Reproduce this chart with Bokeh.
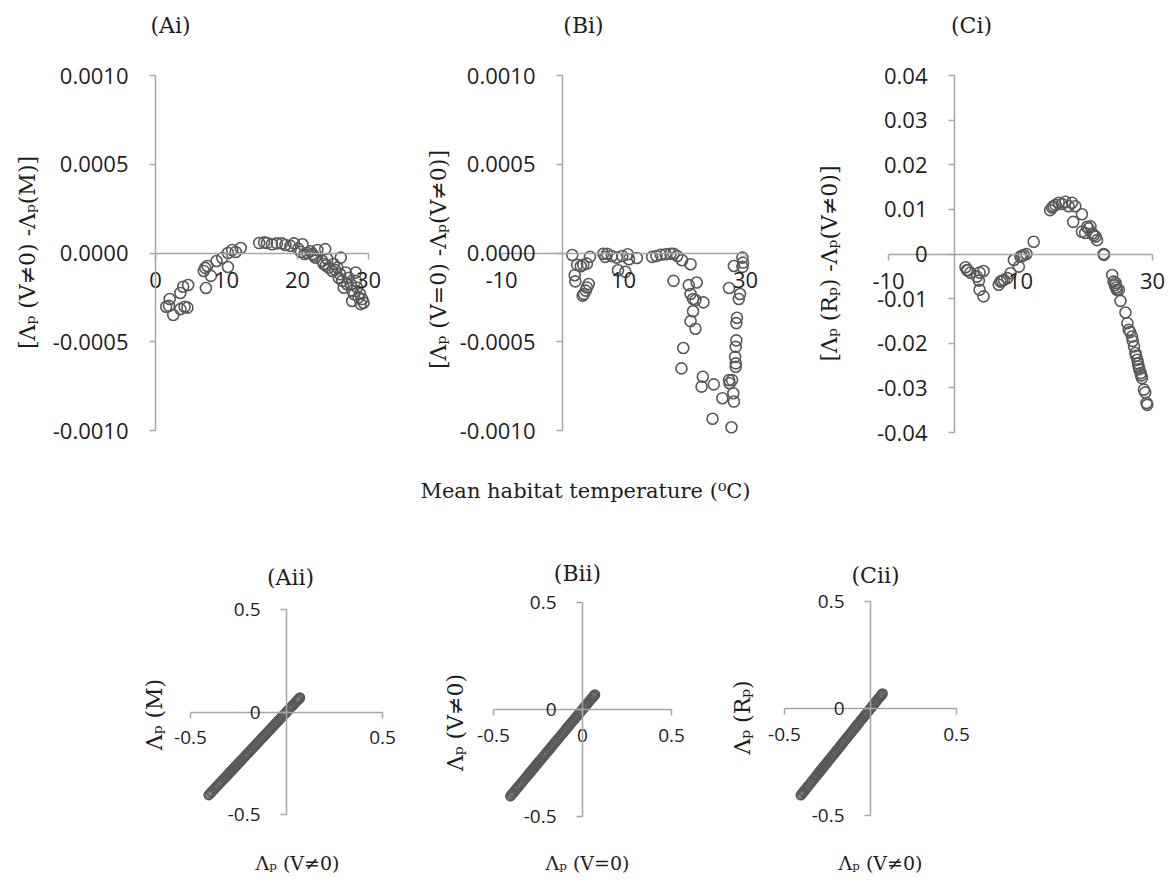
import math
from bokeh.plotting import figure
from bokeh.models import Range1d, FixedTicker, CustomJSTickFormatter, Label
from bokeh.layouts import column, row
from bokeh.embed import file_html
from bokeh.resources import INLINE

# ---------------- data ----------------
temp_ai = [1.5, 2.0, 1.9, 2.5, 3.5, 4.1, 4.5, 3.5, 3.9, 4.6,
           6.8, 7.0, 7.3, 7.1, 7.8, 8.6, 9.4, 10.2, 10.2, 10.8,
           12.0, 11.3, 14.6, 15.3, 15.7, 16.4, 17.1, 17.8, 18.3, 19.0,
           19.5, 20.1, 20.5, 20.7, 21.0, 21.4, 22.1, 22.5, 22.8, 23.5,
           23.9, 23.7, 24.2, 24.4, 24.9, 25.1, 25.6, 26.1, 25.8, 26.3,
           26.5, 26.8, 27.2, 27.5, 27.7, 28.0, 28.2, 27.7, 28.4, 28.6,
           28.9, 29.1, 28.2, 27.0, 21.8, 22.3, 24.0, 25.3, 26.0, 28.8, 29.3]
diff_ai = [-0.000303, -0.000259, -0.000298, -0.000349, -0.000316, -0.000303, -0.000308, -0.000225, -0.000190, -0.000180,
           -0.000101, -0.000084, -0.000073, -0.000197, -0.000129, -0.000045, -0.000028, -0.000079, 0.0, 0.000017,
           0.000028, 0.000006, 0.000056, 0.000060, 0.000056, 0.000049, 0.000054, 0.000054, 0.000045, 0.000040,
           0.000054, 0.000024, 0.000006, 0.000049, -0.000006, 0.0, -0.000006, -0.000026, 0.000017, -0.000045,
           0.000022, -0.000062, -0.000034, -0.000082, -0.000101, -0.000062, -0.000082, -0.000026, -0.000139, -0.000157,
           -0.000195, -0.000110, -0.000139, -0.000176, -0.000213, -0.000232, -0.000110, -0.000270, -0.000195, -0.000250,
           -0.000288, -0.000260, -0.000157, -0.000176, 0.000010, -0.000015, -0.000070, -0.000095, -0.000120, -0.000230, -0.000280]

temp_bi = [1.6, 2.4, 2.0, 2.1, 3.4, 4.0, 4.5, 4.3, 4.0, 3.5,
           3.8, 6.7, 7.3, 7.0, 8.1, 8.9, 9.1, 10.3, 9.8, 10.7,
           10.9, 12.2, 14.7, 15.4, 16.1, 16.9, 17.7, 18.2, 18.8, 19.6,
           21.0, 18.2, 20.7, 22.0, 21.0, 21.4, 21.8, 23.1, 21.4, 21.0,
           21.8, 19.8, 19.5, 23.0, 22.8, 24.8, 26.2, 24.6, 27.7, 27.3,
           27.8, 27.4, 28.0, 28.1, 28.4, 28.4, 28.3, 28.4, 28.5, 28.5,
           28.6, 28.9, 29.1, 27.3, 28.1, 29.5, 29.6, 29.5, 3.3, 3.0]
diff_bi = [-0.000011, -0.000067, -0.000125, -0.000160, -0.000067, -0.000060, -0.000021, -0.000175, -0.000194, -0.000231,
           -0.000212, -0.000004, -0.000004, -0.000022, -0.000017, -0.000026, -0.000097, -0.000106, -0.000017, -0.000007,
           -0.000035, -0.000028, -0.000022, -0.000017, -0.000010, -0.000007, -0.000004, -0.000004, -0.000017, -0.000041,
           -0.000063, -0.000157, -0.000181, -0.000166, -0.000231, -0.000259, -0.000265, -0.000278, -0.000328, -0.000384,
           -0.000427, -0.000535, -0.000650, -0.000697, -0.000753, -0.000740, -0.000818, -0.000934, -0.000982, -0.000716,
           -0.000716, -0.000734, -0.000790, -0.000837, -0.000622, -0.000641, -0.000585, -0.000529, -0.000492, -0.000395,
           -0.000365, -0.000259, -0.000231, -0.000197, -0.000073, -0.000026, -0.000054, -0.000078, -0.000240, -0.000075]

temp_ci = [1.67, 1.9, 2.4, 3.8, 4.4, 3.7, 3.8, 4.4, 3.4, 6.7,
           6.95, 7.5, 8.0, 8.5, 9.0, 9.75, 10.0, 10.5, 10.9, 12.0,
           14.5, 14.8, 15.3, 15.8, 16.8, 17.3, 17.8, 18.3, 19.3, 17.98,
           19.3, 20.1, 20.6, 20.9, 21.4, 21.6, 22.6, 23.9, 24.1, 24.4,
           24.6, 24.9, 25.15, 25.9, 26.2, 26.4, 26.9, 27.2, 27.4, 27.7,
           27.9, 28.2, 28.4, 28.7, 28.9, 29.1, 29.2,
           26.6, 27.0, 27.5, 27.8, 28.0, 28.3, 24.3, 24.5, 15.0, 16.3,
           19.8, 20.3, 21.1, 22.65, 10.2, 7.2, 2.0]
diff_ci = [-0.00298, -0.00358, -0.00417, -0.00417, -0.0038, -0.00596, -0.0080, -0.0095, -0.00507, -0.0069,
           -0.0062, -0.0058, -0.0054, -0.0043, -0.00134, -0.00283, -0.0006, -0.00022, 0.0, 0.00275,
           0.00983, 0.0104, 0.0110, 0.0115, 0.0117, 0.0107, 0.0115, 0.0107, 0.0089, 0.0072,
           0.0050, 0.0061, 0.0062, 0.0046, 0.0039, 0.0031, 0.0, -0.0047, -0.0062, -0.0065,
           -0.0080, -0.0080, -0.0105, -0.0131, -0.0155, -0.0170, -0.0185, -0.0207, -0.0222, -0.0237,
           -0.0252, -0.0267, -0.0278, -0.0304, -0.0310, -0.0334, -0.0338,
           -0.0175, -0.0195, -0.0228, -0.0245, -0.0258, -0.0272, -0.0070, -0.0075, 0.0107, 0.0112,
           0.0047, 0.0057, 0.0042, -0.0002, -0.0004, -0.0060, -0.0037]

lam_vne0 = [-0.405, -0.399, -0.392, -0.386, -0.379, -0.371, -0.364, -0.356, -0.348, -0.341,
            -0.333, -0.326, -0.319, -0.313, -0.307, -0.302, -0.298, -0.294, -0.290, -0.287,
            -0.283, -0.279, -0.275, -0.270, -0.265, -0.259, -0.253, -0.247, -0.241, -0.235,
            -0.229, -0.222, -0.216, -0.210, -0.203, -0.197, -0.190, -0.184, -0.177, -0.171,
            -0.164, -0.158, -0.151, -0.145, -0.138, -0.132, -0.125, -0.119, -0.112, -0.106,
            -0.099, -0.093, -0.086, -0.080, -0.073, -0.067, -0.060, -0.054, -0.047, -0.041,
            -0.034, -0.028, -0.021, -0.015, -0.008, -0.002, 0.005, 0.011, 0.018, 0.024,
            0.031, 0.037, 0.044, 0.050, 0.056, 0.061, 0.066, 0.070]
lam_m = [-0.405, -0.399, -0.392, -0.386, -0.379, -0.371, -0.364, -0.356, -0.348, -0.341,
         -0.333, -0.326, -0.319, -0.313, -0.307, -0.302, -0.298, -0.294, -0.290, -0.287,
         -0.283, -0.279, -0.275, -0.270, -0.265, -0.259, -0.253, -0.247, -0.241, -0.235,
         -0.229, -0.222, -0.216, -0.210, -0.203, -0.197, -0.190, -0.184, -0.177, -0.171,
         -0.164, -0.158, -0.151, -0.145, -0.138, -0.132, -0.125, -0.119, -0.112, -0.106,
         -0.099, -0.093, -0.086, -0.080, -0.073, -0.067, -0.060, -0.054, -0.047, -0.041,
         -0.034, -0.028, -0.021, -0.015, -0.008, -0.002, 0.005, 0.011, 0.018, 0.024,
         0.031, 0.037, 0.044, 0.050, 0.056, 0.061, 0.066, 0.070]
lam_v0 = [-0.405, -0.399, -0.392, -0.386, -0.379, -0.371, -0.364, -0.356, -0.348, -0.341,
          -0.333, -0.326, -0.319, -0.313, -0.307, -0.302, -0.298, -0.294, -0.290, -0.287,
          -0.283, -0.279, -0.275, -0.270, -0.265, -0.259, -0.253, -0.247, -0.241, -0.235,
          -0.229, -0.222, -0.216, -0.210, -0.203, -0.197, -0.190, -0.184, -0.177, -0.171,
          -0.164, -0.158, -0.151, -0.145, -0.138, -0.132, -0.125, -0.119, -0.112, -0.106,
          -0.099, -0.093, -0.086, -0.080, -0.073, -0.067, -0.060, -0.054, -0.047, -0.041,
          -0.034, -0.028, -0.021, -0.015, -0.008, -0.002, 0.005, 0.011, 0.018, 0.024,
          0.031, 0.037, 0.044, 0.050, 0.056, 0.061, 0.066, 0.070]
lam_rp = [-0.405, -0.399, -0.392, -0.386, -0.379, -0.371, -0.364, -0.356, -0.348, -0.341,
          -0.333, -0.326, -0.319, -0.313, -0.307, -0.302, -0.298, -0.294, -0.290, -0.287,
          -0.283, -0.279, -0.275, -0.270, -0.265, -0.259, -0.253, -0.247, -0.241, -0.235,
          -0.229, -0.222, -0.216, -0.210, -0.203, -0.197, -0.190, -0.184, -0.177, -0.171,
          -0.164, -0.158, -0.151, -0.145, -0.138, -0.132, -0.125, -0.119, -0.112, -0.106,
          -0.099, -0.093, -0.086, -0.080, -0.073, -0.067, -0.060, -0.054, -0.047, -0.041,
          -0.034, -0.028, -0.021, -0.015, -0.008, -0.002, 0.005, 0.011, 0.018, 0.024,
          0.031, 0.037, 0.044, 0.050, 0.056, 0.061, 0.066, 0.070]

xticks_a = [0, 10, 20, 30]
xticks_bc = [-10, 10, 30]
yticks_ab = [-0.001, -0.0005, 0, 0.0005, 0.001]
yticks_c = [-0.04, -0.03, -0.02, -0.01, 0, 0.01, 0.02, 0.03, 0.04]
yticks_low = [-0.5, 0, 0.5]
xticks_low_ac = [-0.5, 0.5]
xticks_low_b = [-0.5, 0, 0.5]

titles = ["(Ai)", "(Bi)", "(Ci)", "(Aii)", "(Bii)", "(Cii)"]
ylabels = ["[Λₚ (V≠0) -Λₚ(M)]", "[Λₚ (V=0) -Λₚ(V≠0)]", "[Λₚ (Rₚ) -Λₚ(V≠0)]",
           "Λₚ (M)", "Λₚ (V≠0)", "Λₚ (Rₚ)"]
xlabels_low = ["Λₚ (V≠0)", "Λₚ (V=0)", "Λₚ (V≠0)"]
shared_xlabel = "Mean habitat temperature (⁰C)"

# ---------------- styling ----------------
AXIS = "#a6a6a6"
MARK = "#595959"
TXT = "#1e1e1e"
SANS = "Open Sans"
SERIF = "DejaVu Serif"

FMT_INT = "return tick.toFixed(0);"
FMT_4 = "return (Math.abs(tick) < 1e-12 ? 0 : tick).toFixed(4);"
FMT_2 = "return Math.abs(tick) < 1e-12 ? '0' : tick.toFixed(2);"
FMT_1 = "return Math.abs(tick) < 1e-12 ? '0' : tick.toFixed(1);"


class Geo:
    """Page-pixel geometry of one panel: figure box + pixel position/scale of the axes."""
    def __init__(self, fx, fy, w, h, x_ref, x_px, x_scale, y_ref, y_px, y_scale):
        self.fx, self.fy, self.w, self.h = fx, fy, w, h
        self.x_ref, self.x_px, self.x_scale = x_ref, x_px, x_scale
        self.y_ref, self.y_px, self.y_scale = y_ref, y_px, y_scale

    def xv(self, px):
        return self.x_ref + (px - self.x_px) / self.x_scale

    def yv(self, py):
        return self.y_ref - (py - self.y_px) / self.y_scale


def panel(g, xbounds, ybounds, xticks, yticks, xfmt, yfmt, tick_px, x_std, y_std,
          xs, ys, msize, mwidth, texts):
    p = figure(width=g.w, height=g.h, title=None,
               x_range=Range1d(g.xv(g.fx), g.xv(g.fx + g.w)),
               y_range=Range1d(g.yv(g.fy + g.h), g.yv(g.fy)),
               output_backend="svg", toolbar_location=None,
               min_border_left=0, min_border_right=0, min_border_top=0, min_border_bottom=0,
               background_fill_color="white", border_fill_color="white")
    p.outline_line_color = None
    p.grid.visible = False
    for ax, ticks, fmt, bnd in ((p.xaxis[0], xticks, xfmt, xbounds), (p.yaxis[0], yticks, yfmt, ybounds)):
        ax.fixed_location = 0
        ax.bounds = bnd
        ax.ticker = FixedTicker(ticks=ticks, minor_ticks=[])
        ax.formatter = CustomJSTickFormatter(code=fmt)
        ax.axis_line_color = AXIS
        ax.axis_line_width = 1.5
        ax.major_tick_line_color = AXIS
        ax.major_tick_line_width = 1.5
        ax.major_tick_in = 0
        ax.major_tick_out = 6
        ax.minor_tick_line_color = None
        ax.major_label_text_font = SANS
        ax.major_label_text_font_size = tick_px
        ax.major_label_text_color = TXT
    p.xaxis[0].major_label_standoff = x_std
    p.yaxis[0].major_label_standoff = y_std

    p.scatter(xs, ys, marker="circle", size=msize, fill_color=None,
              line_color=MARK, line_width=mwidth)

    for text, px, py, size, rot in texts:
        p.add_layout(Label(x=g.xv(px), y=g.yv(py), text=text, text_align="center",
                           text_baseline="middle", text_font=SERIF, text_font_size=size,
                           text_color=TXT, angle=(math.pi / 2 if rot else 0)))
    return p


TOP_H = 520
LOW_H = 358

gA1 = Geo(0, 0, 390, TOP_H, 0, 155, 7.1, 0, 252.5, 177500)
gB1 = Geo(390, 0, 390, TOP_H, 0, 562, 6.1, 0, 252.5, 177500)
gC1 = Geo(780, 0, 391, TOP_H, 0, 954, 6.6, 0, 253.5, 4462.5)
gA2 = Geo(0, TOP_H, 430, LOW_H, 0, 286, 192, 0, 711.5, 205)
gB2 = Geo(430, TOP_H, 290, LOW_H, 0, 582, 178, 0, 709, 214)
gC2 = Geo(720, TOP_H, 280, LOW_H, 0, 870, 172, 0, 708, 214)

pA1 = panel(gA1, (0, 30), (-0.001, 0.001), xticks_a, yticks_ab, FMT_INT, FMT_4, "22px", 13, 21,
            temp_ai, diff_ai, 11, 1.6,
            [(titles[0], 170, 25, "22px", False), (ylabels[0], 27, 252, "22px", True)])
pB1 = panel(gB1, (-10, 30), (-0.001, 0.001), xticks_bc, yticks_ab, FMT_INT, FMT_4, "22px", 13, 21,
            temp_bi, diff_bi, 11, 1.6,
            [(titles[1], 583, 25, "22px", False), (ylabels[1], 438, 259, "22px", True),
             (shared_xlabel, 585, 490, "21px", False)])
pC1 = panel(gC1, (-10, 30), (-0.04, 0.04), xticks_bc, yticks_c, FMT_INT, FMT_2, "22px", 13, 21,
            temp_ci, diff_ci, 11, 1.6,
            [(titles[2], 971, 25, "22px", False), (ylabels[2], 829, 263, "22px", True)])
pA2 = panel(gA2, (-0.5, 0.5), (-0.5, 0.5), xticks_low_ac, yticks_low, FMT_1, FMT_1, "19px", 13, 20,
            lam_vne0, lam_m, 9, 1.7,
            [(titles[3], 290, 577, "22px", False), (xlabels_low[0], 297, 862, "19px", False),
             (ylabels[3], 154, 714, "22px", True)])
pB2 = panel(gB2, (-0.5, 0.5), (-0.5, 0.5), xticks_low_b, yticks_low, FMT_1, FMT_1, "19px", 13, 20,
            lam_v0, lam_vne0, 9, 1.7,
            [(titles[4], 577, 573, "22px", False), (xlabels_low[1], 587, 862, "19px", False),
             (ylabels[4], 455, 722, "22px", True)])
pC2 = panel(gC2, (-0.5, 0.5), (-0.5, 0.5), xticks_low_ac, yticks_low, FMT_1, FMT_1, "19px", 13, 20,
            lam_vne0, lam_rp, 9, 1.7,
            [(titles[5], 875, 575, "22px", False), (xlabels_low[2], 880, 862, "19px", False),
             (ylabels[5], 742, 717, "22px", True)])

layout = column(row(pA1, pB1, pC1), row(pA2, pB2, pC2))

open("out.html", "w").write(file_html(layout, INLINE))
